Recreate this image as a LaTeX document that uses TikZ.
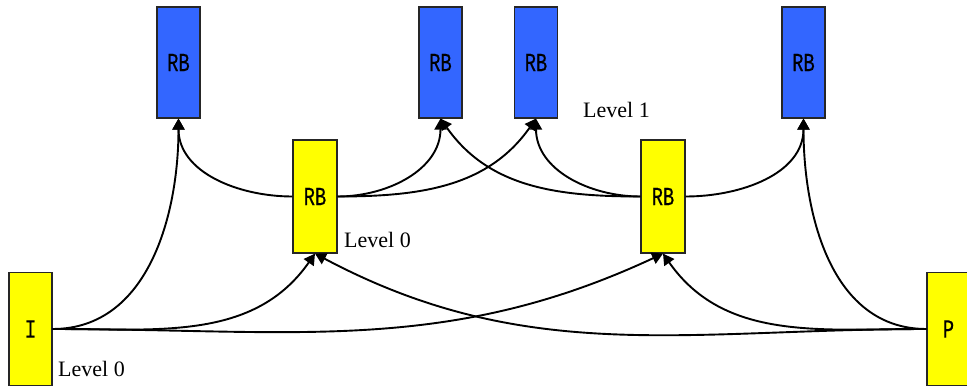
\documentclass[tikz,border=0pt]{standalone}
\usepackage{fontspec}
\usepackage{graphicx}
\setmainfont{Liberation Serif}
\newfontfamily\monofam[FakeBold=0.4]{Liberation Mono}
\usetikzlibrary{arrows.meta}
\definecolor{rbblue}{HTML}{3366FF}
\definecolor{rbyellow}{HTML}{FFFF00}
\newcommand\boxlab[1]{\scalebox{0.72}[1]{\fontsize{26}{26}\monofam #1}}
\tikzset{
  blk/.style={draw=black!85, line width=1.2pt, minimum width=43pt, minimum height=112pt, inner sep=0pt},
  bluebox/.style={blk, fill=rbblue},
  yelbox/.style={blk, fill=rbyellow},
  lvl/.style={font=\fontsize{22}{22}\selectfont, inner sep=0pt, anchor=west},
  conn/.style={line width=1.9pt, -{Triangle[width=12pt,length=11pt]}},
}
\begin{document}
\begin{tikzpicture}[x=1pt,y=-1pt]
\useasboundingbox (0,0) rectangle (967,387);
\begin{scope}
\clip (0,0) rectangle (967,387);
% blue level 1
\node[bluebox, minimum height=111pt] (b1) at (178.5,62.5) {\boxlab{RB}};
\node[bluebox, minimum height=111pt] (b2) at (440.5,62.5) {\boxlab{RB}};
\node[bluebox, minimum height=111pt] (b3) at (536,62.5) {\boxlab{RB}};
\node[bluebox, minimum height=111pt] (b4) at (803.5,62.5) {\boxlab{RB}};
% yellow level 0
\node[yelbox, minimum width=44pt, minimum height=113pt] (y1) at (315,196.5) {\boxlab{RB}};
\node[yelbox, minimum width=44pt, minimum height=113pt] (y2) at (663,196.5) {\boxlab{RB}};
% I and P
\node[yelbox, minimum height=113pt] (in) at (30.5,329) {\boxlab{I}};
\node[yelbox, minimum height=113pt] (pp) at (948.5,329) {\boxlab{P}};
% labels
\node[lvl] (l1) at (583,110) {Level 1};
\node[lvl] (l0a) at (344,240) {Level 0};
\node[lvl] (l0b) at (58,369) {Level 0};
% connectors
\draw[conn] (y1.west) to[out=180,in=-90] (b1.south);
\draw[conn] (in.east) to[out=0,in=-90] (b1.south);
\draw[conn] (y1.east) to[out=0,in=-90] (b2.south);
\draw[conn] (y1.east) to[out=0,in=-125] (b3.south);
\draw[conn] (y2.west) to[out=180,in=-55] (b2.south);
\draw[conn] (y2.west) to[out=180,in=-90] (b3.south);
\draw[conn] (y2.east) to[out=0,in=-90] (b4.south);
\draw[conn] (pp.west) to[out=180,in=-90] (b4.south);
\draw[conn] (in.east) to[out=0,in=-125] (y1.south);
\draw[conn] (in.east) to[out=0,in=-155] (y2.south);
\draw[conn] (pp.west) to[out=180,in=-28] (y1.south);
\draw[conn] (pp.west) to[out=180,in=-55] (y2.south);
\end{scope}
\end{tikzpicture}
\end{document}
